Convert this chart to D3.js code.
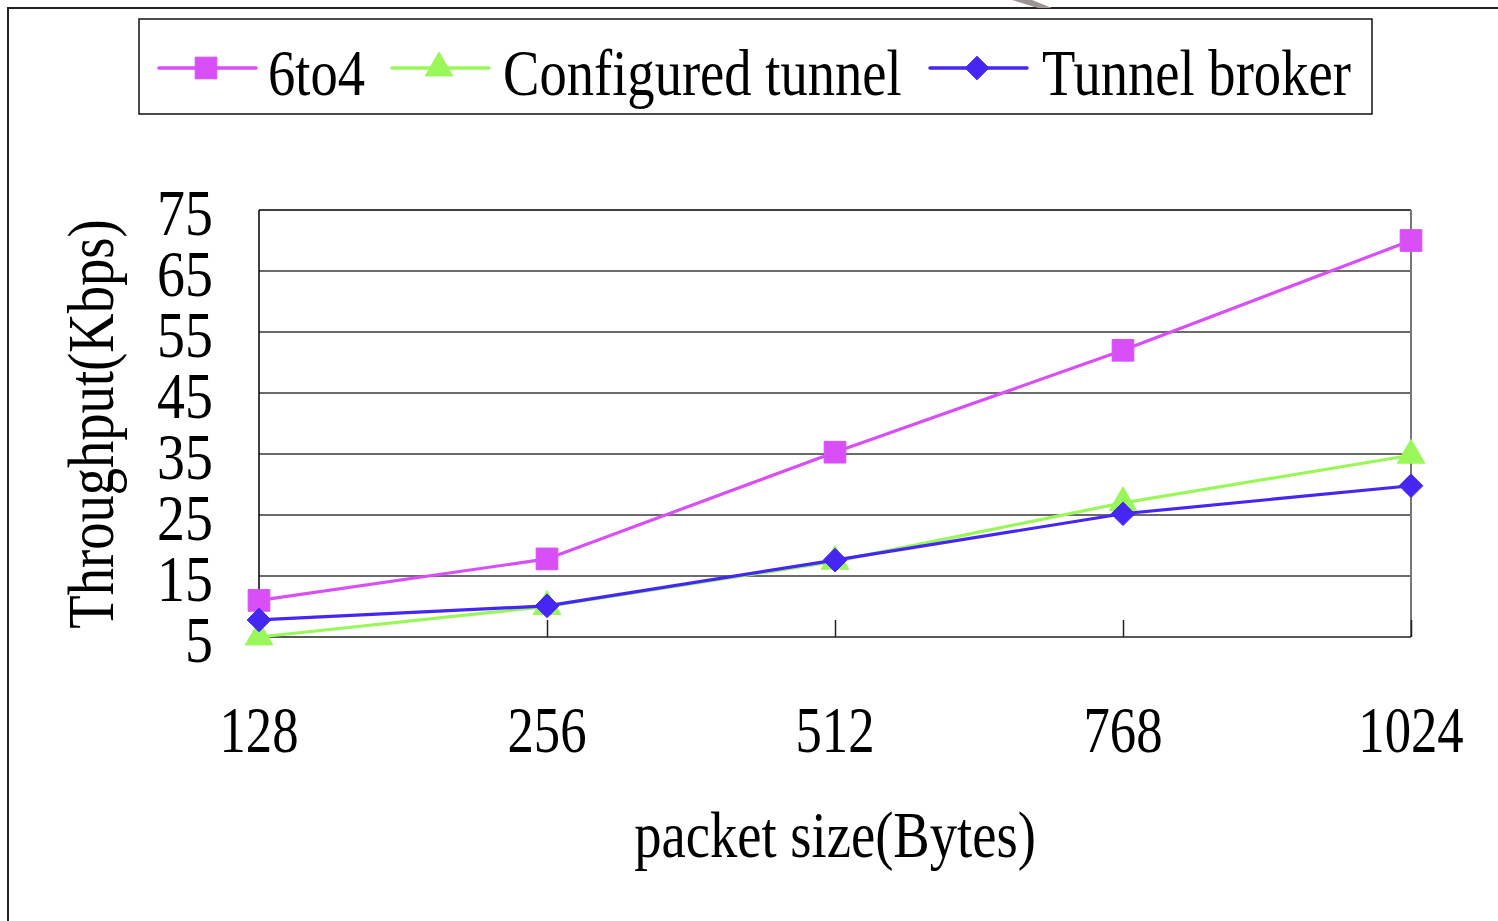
<!DOCTYPE html>
<html>
<head>
<meta charset="utf-8">
<script src="https://cdn.jsdelivr.net/npm/d3@7"></script>
<style>
  html, body { margin: 0; padding: 0; background: #fff; }
  svg { display: block; }
  text { font-family: "Liberation Serif", "DejaVu Serif", serif; fill: #000; }
</style>
</head>
<body>
<svg id="chart" width="1498" height="921"></svg>
<script>
// Packet sizes on the x axis
const packetSizes = ["128", "256", "512", "768", "1024"];
// Throughput (Kbps) per tunnelling mechanism
const sixToFour = [11, 17.8, 35.3, 52, 70];
const configuredTunnel = [5, 10, 17.4, 27, 34.8];
const tunnelBroker = [7.8, 10.1, 17.6, 25.2, 29.8];
// Y-axis tick labels
const yTicks = [5, 15, 25, 35, 45, 55, 65, 75];

// Square diamond (a square turned by 45 degrees)
const symbolSquareDiamond = {
  draw(context, size) {
    const r = Math.sqrt(size / 2);
    context.moveTo(0, -r);
    context.lineTo(r, 0);
    context.lineTo(0, r);
    context.lineTo(-r, 0);
    context.closePath();
  }
};

const seriesNames = ["6to4", "Configured tunnel", "Tunnel broker"];
const seriesValues = [sixToFour, configuredTunnel, tunnelBroker];
const seriesColors = ["#d84ff8", "#99f75a", "#4426f5"];
const seriesSymbols = [d3.symbolSquare, d3.symbolTriangle, symbolSquareDiamond];
const symbolSizes = [470, 330, 280];

const svg = d3.select("#chart");
const FONT = 65, SX = 0.84;

// Condensed serif text: placed at (x, y) and squeezed horizontally
function label(parent, x, y, str, anchor, sx = SX) {
  return parent.append("g")
    .attr("transform", `translate(${x},${y}) scale(${sx},1)`)
    .append("text")
    .attr("text-anchor", anchor)
    .attr("font-size", FONT)
    .text(str);
}

// Outer frame (left and top edges)
svg.append("path")
  .attr("d", "M8,921 V8 H1498")
  .attr("fill", "none").attr("stroke", "#222").attr("stroke-width", 2);
svg.append("path")
  .attr("d", "M1012,0 L1032,0 L1052,8 L1038,8 Z")
  .attr("fill", "#9d9390");

const x = d3.scalePoint().domain(packetSizes).range([259, 1411]);
const y = d3.scaleLinear().domain([5, 75]).range([637, 210]);

// Plot area
const plot = svg.append("g");
plot.selectAll("line.grid")
  .data(yTicks.filter(t => t !== 5 && t !== 75))
  .join("line")
  .attr("x1", 259).attr("x2", 1411)
  .attr("y1", d => y(d)).attr("y2", d => y(d))
  .attr("stroke", "#3a3a3a").attr("stroke-width", 1.5);
plot.append("line")
  .attr("x1", 259).attr("x2", 1411).attr("y1", y(75)).attr("y2", y(75))
  .attr("stroke", "#000").attr("stroke-width", 1.5);
plot.append("line")
  .attr("x1", 1411).attr("x2", 1411).attr("y1", y(75)).attr("y2", y(5))
  .attr("stroke", "#777").attr("stroke-width", 2);

// X axis with inward ticks
const xAxis = d3.axisBottom(x).tickSize(-17).tickFormat("");
const gx = svg.append("g").attr("transform", `translate(0,${y(5)})`).call(xAxis);
gx.select(".domain").attr("stroke", "#222").attr("stroke-width", 1.5)
  .attr("d", `M259,0H1411`);
gx.selectAll(".tick line").attr("stroke", "#222").attr("stroke-width", 1.5);
gx.selectAll(".tick").filter(d => d === packetSizes[0]).remove();

// Y axis line
svg.append("line")
  .attr("x1", 259).attr("x2", 259).attr("y1", y(75)).attr("y2", y(5))
  .attr("stroke", "#000").attr("stroke-width", 1.5);

// Tick labels
yTicks.forEach(t => label(svg, 213, y(t) + 25, String(t), "end", 0.86));
packetSizes.forEach(p => label(svg, x(p), 752, p, "middle", 0.81));

// Axis titles
label(svg, 835, 857, "packet size(Bytes)", "middle");
svg.append("g")
  .attr("transform", `translate(113,424) rotate(-90) scale(${SX},1)`)
  .append("text")
  .attr("text-anchor", "middle")
  .attr("font-size", FONT)
  .text("Throughput(Kbps)");

// Series lines and markers
const line = d3.line().x((d, i) => x(packetSizes[i])).y(d => y(d));
seriesValues.forEach((vals, s) => {
  const g = svg.append("g");
  g.append("path")
    .attr("d", line(vals))
    .attr("fill", "none")
    .attr("stroke", seriesColors[s])
    .attr("stroke-width", 3.2);
  g.selectAll("path.mark")
    .data(vals)
    .join("path")
    .attr("class", "mark")
    .attr("transform", (d, i) => `translate(${x(packetSizes[i])},${y(d)})`)
    .attr("d", d3.symbol().type(seriesSymbols[s]).size(symbolSizes[s]))
    .attr("fill", seriesColors[s])
    .attr("stroke", seriesColors[s])
    .attr("stroke-width", 1)
    .attr("stroke-linejoin", "round");
});

// Legend
const legend = svg.append("g");
legend.append("rect")
  .attr("x", 139).attr("y", 19).attr("width", 1233).attr("height", 95)
  .attr("fill", "#fff").attr("stroke", "#111").attr("stroke-width", 1.5);
const legendLineStart = [159, 392, 930];
const legendTextStart = [268, 503, 1042];
seriesNames.forEach((name, s) => {
  const x0 = legendLineStart[s];
  legend.append("line")
    .attr("x1", x0).attr("x2", x0 + 97).attr("y1", 68).attr("y2", 68)
    .attr("stroke", seriesColors[s]).attr("stroke-width", 3.5)
    .attr("stroke-linecap", "round");
  legend.append("path")
    .attr("transform", `translate(${x0 + 47},68)`)
    .attr("d", d3.symbol().type(seriesSymbols[s]).size(symbolSizes[s]))
    .attr("fill", seriesColors[s])
    .attr("stroke", seriesColors[s]).attr("stroke-width", 1)
    .attr("stroke-linejoin", "round");
  label(legend, legendTextStart[s], 95, name, "start");
});
</script>
</body>
</html>
